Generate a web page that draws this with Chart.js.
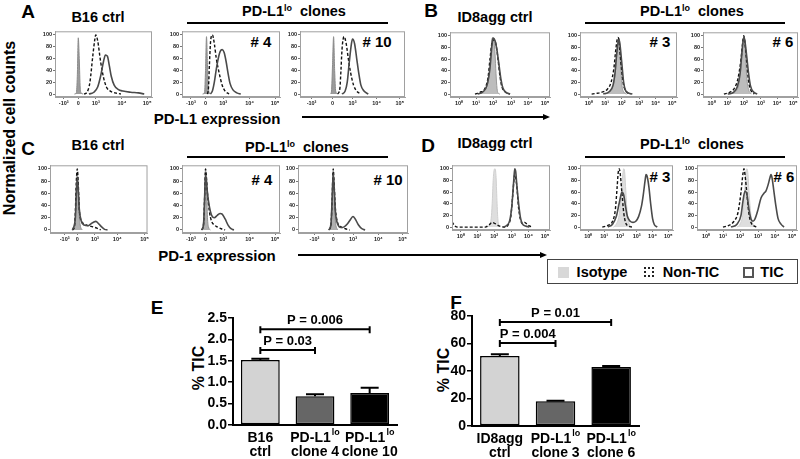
<!DOCTYPE html>
<html>
<head>
<meta charset="utf-8">
<script src="https://cdn.jsdelivr.net/npm/chart.js@4.4.0/dist/chart.umd.min.js"></script>
<style>
body{margin:0;background:#fff}
#fig{position:relative;width:800px;height:459px;overflow:hidden;background:#fff;font-family:"Liberation Sans",Arial,sans-serif;font-weight:bold;color:#000}
#fig canvas{position:absolute}
.t{position:absolute;white-space:pre;transform:translate(-50%,-50%);line-height:1}
.t sup{font-size:62%;vertical-align:0;position:relative;top:-0.55em}
.hl{position:absolute;height:2px;background:#000}
.ar{position:absolute;width:0;height:0;border-left:7px solid #000;border-top:3.5px solid transparent;border-bottom:3.5px solid transparent}
.v{transform:translate(-50%,-50%) rotate(-90deg)}
.sq{position:absolute;box-sizing:border-box}
</style>
</head>
<body>
<div id="fig">
  <div class="t" style="left:28px;top:11px;font-size:19px">A</div>
  <div class="t" style="left:98px;top:17px;font-size:14.5px">B16 ctrl</div>
  <div class="t" style="left:294px;top:11px;font-size:14.5px">PD-L1<sup>lo</sup>  clones</div>
  <div class="hl" style="left:187px;top:22px;width:201px"></div>
  <div class="t" style="left:261px;top:41px;font-size:15px"># 4</div>
  <div class="t" style="left:377px;top:41px;font-size:15px"># 10</div>
  <div class="t" style="left:217px;top:118px;font-size:15px">PD-L1 expression</div>
  <div class="hl" style="left:302px;top:116px;width:242px"></div>
  <div class="ar" style="left:543px;top:113.5px"></div>

  <div class="t" style="left:431px;top:10px;font-size:19px">B</div>
  <div class="t" style="left:495px;top:17px;font-size:14.5px">ID8agg ctrl</div>
  <div class="t" style="left:692px;top:11px;font-size:14.5px">PD-L1<sup>lo</sup>  clones</div>
  <div class="hl" style="left:585px;top:22px;width:200px"></div>
  <div class="t" style="left:660px;top:41px;font-size:15px"># 3</div>
  <div class="t" style="left:783px;top:41px;font-size:15px"># 6</div>

  <div class="t v" style="left:10px;top:128px;font-size:16px">Normalized cell counts</div>

  <div class="t" style="left:28px;top:148px;font-size:19px">C</div>
  <div class="t" style="left:98px;top:145px;font-size:14.5px">B16 ctrl</div>
  <div class="t" style="left:297px;top:147px;font-size:14.5px">PD-L1<sup>lo</sup>  clones</div>
  <div class="hl" style="left:187px;top:156px;width:201px"></div>
  <div class="t" style="left:262px;top:179px;font-size:15px"># 4</div>
  <div class="t" style="left:388px;top:179px;font-size:15px"># 10</div>
  <div class="t" style="left:217px;top:255px;font-size:15px">PD-1 expression</div>
  <div class="hl" style="left:298px;top:254px;width:243px"></div>
  <div class="ar" style="left:540px;top:251.5px"></div>

  <div class="t" style="left:428px;top:145px;font-size:19px">D</div>
  <div class="t" style="left:495px;top:143px;font-size:14.5px">ID8agg ctrl</div>
  <div class="t" style="left:692px;top:144px;font-size:14.5px">PD-L1<sup>lo</sup>  clones</div>
  <div class="hl" style="left:585px;top:156px;width:200px"></div>
  <div class="t" style="left:660px;top:176px;font-size:15px"># 3</div>
  <div class="t" style="left:784px;top:176px;font-size:15px"># 6</div>

  <div class="sq" style="left:547px;top:259px;width:251px;height:25px;border:1px solid #444"></div>
  <div class="sq" style="left:558px;top:267px;width:11px;height:11px;background:#d8d8d8"></div>
  <div class="t" style="left:602px;top:272px;font-size:14.5px">Isotype</div>
  <div class="sq" style="left:644px;top:267px;width:10px;height:10px;border:2px dotted #222"></div>
  <div class="t" style="left:691px;top:272px;font-size:14.5px">Non-TIC</div>
  <div class="sq" style="left:743px;top:267px;width:11px;height:11px;border:2px solid #555"></div>
  <div class="t" style="left:772px;top:272px;font-size:14.5px">TIC</div>

  <div class="t" style="left:157px;top:307px;font-size:19px">E</div>
  <div class="t v" style="left:199px;top:368px;font-size:16px">% TIC</div>
  <div class="t" style="left:456px;top:302px;font-size:19px">F</div>
  <div class="t v" style="left:444px;top:370px;font-size:16px">% TIC</div>
</div>
<script>
const FONT = '"Liberation Sans", Arial, sans-serif';
Chart.defaults.font.family = FONT;
Chart.defaults.color = '#000';

// histogram axes
const biexTicks = [9, 24, 42, 69, 95];
const biexTicksA3 = [11, 31, 50, 73, 95];
const biexTicksC1 = [15, 28, 46, 69, 97];
const biexTicksC3 = [15, 32, 50, 73, 95];
const biexLabels = ['-10³', '0', '10³', '10⁴', '10⁵'];
const logTicks = [9, 26, 43, 61, 78, 95];
const logLabels = ['10⁰', '10¹', '10²', '10³', '10⁴', '10⁵'];
const countTicks = [0, 20, 40, 60, 80, 100];

// A: B16, PD-L1
const a1Iso = [[20,0],[22,2],[23,30],[24,95],[25,60],[26,10],[27,2],[29,0]];
const a1Non = [[30,0],[33,3],[36,20],[39,65],[41,92],[42,100],[44,90],[47,55],[50,28],[53,12],[57,5],[62,2],[68,0]];
const a1Tic = [[35,0],[40,3],[44,12],[47,30],[50,55],[52,66],[54,64],[56,48],[58,30],[61,15],[65,8],[70,5],[78,3],[86,2],[92,0]];
const a2Iso = [[21,0],[23,3],[24,40],[25,97],[26,50],[27,8],[29,0]];
const a2Non = [[26,0],[27,10],[28,50],[29,85],[30,98],[31,100],[33,85],[35,60],[38,35],[41,15],[44,5],[48,0]];
const a2Tic = [[29,0],[31,5],[33,20],[35,42],[37,60],[39,72],[41,75],[43,70],[45,55],[47,35],[49,18],[52,7],[56,2],[60,0]];
const a3Iso = [[29,0],[30,5],[31,50],[32,97],[33,40],[34,5],[36,0]];
const a3Non = [[36,0],[38,10],[39,40],[40,75],[41,92],[42,97],[44,85],[46,60],[48,38],[51,15],[54,5],[58,0]];
const a3Tic = [[40,0],[43,5],[45,20],[47,55],[49,85],[50,93],[52,85],[54,60],[56,35],[58,15],[61,5],[65,0]];

// B: ID8agg, PD-L1
const b1Iso = [[28,0],[32,3],[36,10],[39,30],[41,70],[42,95],[43,97],[44,92],[45,70],[46,35],[47,10],[48,2],[50,0]];
const b1Non = [[25,0],[30,3],[35,10],[38,28],[40,60],[42,88],[44,93],[46,85],[48,60],[50,30],[52,12],[55,4],[60,0]];
const b1Tic = [[28,0],[33,4],[37,15],[40,45],[42,85],[43,96],[45,92],[47,75],[49,50],[51,25],[53,10],[56,3],[60,0]];
const b2Iso = [[26,0],[30,3],[34,12],[36,30],[38,70],[39,92],[40,95],[41,85],[42,55],[43,20],[45,4],[48,0]];
const b2Non = [[12,0],[16,1],[22,3],[28,8],[32,20],[35,45],[37,78],[39,97],[40,95],[41,75],[43,40],[45,15],[48,4],[52,0]];
const b2Tic = [[24,0],[30,4],[34,15],[36,35],[38,72],[40,93],[41,88],[43,55],[45,20],[47,6],[50,2],[54,0]];
const b3Iso = [[28,0],[33,3],[37,12],[39,30],[41,65],[42,88],[43,97],[44,88],[45,60],[46,30],[48,8],[51,0]];
const b3Non = [[22,0],[28,3],[33,10],[37,28],[40,60],[42,92],[43,100],[44,90],[46,55],[48,22],[50,8],[54,0]];
const b3Tic = [[26,0],[32,3],[36,12],[39,35],[41,72],[43,98],[44,92],[46,65],[48,35],[50,14],[53,4],[57,0]];

// C: B16, PD-1
const c1Iso = [[23,0],[25,3],[26,20],[27,70],[28,95],[29,70],[30,25],[31,8],[33,0]];
const c1Non = [[23,0],[25,5],[26,30],[27,80],[28,100],[29,75],[30,35],[32,15],[35,10],[39,7],[44,5],[48,3],[52,0]];
const c1Tic = [[23,0],[26,20],[27,60],[28,85],[29,65],[30,35],[32,15],[35,8],[39,7],[42,10],[45,13],[47,14],[50,10],[53,5],[56,1],[59,0]];
const c2Iso = [[20,0],[22,5],[23,40],[24,100],[25,70],[26,20],[27,5],[29,0]];
const c2Non = [[20,0],[22,10],[23,50],[24,100],[25,85],[26,60],[28,30],[30,15],[33,8],[36,5],[40,2],[44,0]];
const c2Tic = [[20,0],[22,10],[23,50],[24,90],[25,80],[26,60],[28,38],[30,25],[33,20],[36,24],[39,27],[41,26],[44,18],[47,8],[50,2],[53,0]];
const c3Iso = [[28,0],[30,5],[31,40],[32,97],[33,60],[34,15],[36,0]];
const c3Non = [[28,0],[30,10],[31,50],[32,100],[33,70],[34,35],[36,12],[39,5],[43,2],[47,0]];
const c3Tic = [[28,0],[30,10],[31,50],[32,92],[33,65],[34,30],[36,10],[39,4],[42,5],[45,10],[48,18],[50,22],[52,18],[55,8],[58,2],[61,0]];

// D: ID8agg, PD-1
const d1Iso = [[36,0],[38,3],[40,15],[41,40],[42,80],[43,98],[44,100],[45,85],[46,40],[47,10],[49,0]];
const d1Non = [[0,9],[3,2],[6,0],[34,0],[38,4],[41,8],[44,6],[48,2],[54,0],[57,3],[60,18],[62,55],[64,90],[66,72],[68,32],[70,12],[72,6],[74,8],[76,6],[79,2],[82,0]];
const d1Tic = [[52,0],[56,3],[59,12],[61,35],[63,80],[64,100],[65,95],[66,75],[68,40],[70,15],[72,5],[75,2],[79,0]];
const d2Iso = [[36,0],[39,5],[42,20],[44,50],[46,90],[47,100],[48,95],[49,70],[50,40],[52,12],[54,2],[56,0]];
const d2Non = [[24,0],[30,3],[35,10],[38,30],[40,70],[41,92],[42,100],[43,95],[45,60],[47,25],[49,8],[52,2],[56,0]];
const d2Tic = [[30,0],[35,5],[39,18],[42,40],[44,55],[45,60],[47,55],[49,35],[51,18],[54,10],[57,8],[60,10],[63,18],[66,35],[68,55],[70,80],[71,90],[72,88],[74,70],[76,40],[78,15],[80,4],[83,0]];
const d3Iso = [[40,0],[43,5],[46,25],[48,70],[49,95],[50,100],[51,90],[52,60],[54,20],[56,5],[58,0]];
const d3Non = [[26,0],[32,3],[37,10],[41,25],[44,60],[46,92],[47,100],[48,90],[50,55],[52,22],[54,8],[57,2],[60,0]];
const d3Tic = [[34,0],[40,5],[44,20],[46,45],[48,62],[50,55],[52,30],[54,14],[56,10],[58,14],[61,30],[64,50],[67,58],[69,62],[71,72],[73,85],[74,90],[75,85],[77,60],[79,35],[81,15],[84,5],[87,0]];

// E and F bar charts
const catTopE = ['B16', 'PD-L1', 'PD-L1'];
const catSupE = ['', 'lo', 'lo'];
const catBotE = ['ctrl', 'clone 4', 'clone 10'];
const ticE = [1.52, 0.67, 0.75];
const semE = [0.03, 0.05, 0.12];
const pFromE = [0, 0];
const pToE = [2, 1];
const pLevelE = [2.24, 1.75];
const pTextE = ['P = 0.006', 'P = 0.03'];

const catTopF = ['ID8agg', 'PD-L1', 'PD-L1'];
const catSupF = ['', 'lo', 'lo'];
const catBotF = ['ctrl', 'clone 3', 'clone 6'];
const ticF = [51, 18, 43];
const semF = [1.2, 0.4, 0.7];
const pFromF = [0, 0];
const pToF = [2, 1];
const pLevelF = [75.6, 60.4];
const pTextF = ['P = 0.01', 'P = 0.004'];

const barColors = ['#d3d3d3', '#666666', '#000000'];

const fig = document.getElementById('fig');
const P = a => a.map(p => ({x: p[0], y: p[1]}));

const frame = {
  id: 'frame',
  afterDraw(ch) {
    const a = ch.chartArea, g = ch.ctx;
    g.save();
    g.strokeStyle = '#a0a0a0';
    g.lineWidth = 1;
    g.strokeRect(a.left + 0.5, a.top + 0.5, a.right - a.left - 1, a.bottom - a.top - 1);
    g.restore();
  }
};

function makeCanvas(left, top, w, h) {
  const c = document.createElement('canvas');
  c.width = w; c.height = h;
  c.style.left = left + 'px'; c.style.top = top + 'px';
  c.style.width = w + 'px'; c.style.height = h + 'px';
  fig.appendChild(c);
  return c;
}

function hist(left, top, w, h, ticks, labels, iso, non, tic, isoFill, isoLine) {
  const c = makeCanvas(left - 18, top - 2, w + 20, h + 14);
  const tickFont = {size: 5.5, weight: 'bold', family: FONT};
  new Chart(c, {
    type: 'line',
    data: {
      datasets: [
        {data: P(tic), borderColor: '#4a4a4a', borderWidth: 1.6, fill: false, order: 1},
        {data: P(non), borderColor: '#111', borderWidth: 1.4, borderDash: [3, 2], fill: false, order: 2},
        {data: P(iso), borderColor: isoLine, backgroundColor: isoFill, borderWidth: 1, fill: 'origin', order: 3}
      ]
    },
    options: {
      responsive: false,
      animation: false,
      layout: {padding: {top: 2, right: 2, left: 0, bottom: 0}},
      elements: {point: {radius: 0}, line: {cubicInterpolationMode: 'monotone'}},
      plugins: {legend: {display: false}, tooltip: {enabled: false}},
      scales: {
        x: {
          type: 'linear', min: 0, max: 100,
          afterBuildTicks: s => { s.ticks = ticks.map(v => ({value: v})); },
          afterFit: s => { s.height = 12; },
          ticks: {font: tickFont, color: '#222', padding: 1, maxRotation: 0, autoSkip: false,
                  callback: (v, i) => labels[i]},
          grid: {drawOnChartArea: false, tickLength: 2, color: '#777'},
          border: {color: '#a0a0a0'}
        },
        y: {
          min: -5, max: 106,
          afterBuildTicks: s => { s.ticks = countTicks.map(v => ({value: v})); },
          afterFit: s => { s.width = 18; },
          ticks: {font: tickFont, color: '#222', padding: 1, autoSkip: false, callback: (v, i) => String(countTicks[i])},
          grid: {drawOnChartArea: false, tickLength: 2, color: '#777'},
          border: {color: '#a0a0a0'}
        }
      }
    },
    plugins: [frame]
  });
}

hist(55, 29, 97, 68, biexTicks, biexLabels, a1Iso, a1Non, a1Tic, '#9c9c9c', '#8a8a8a');
hist(182, 29, 98, 68, biexTicks, biexLabels, a2Iso, a2Non, a2Tic, '#9c9c9c', '#8a8a8a');
hist(300, 29, 105, 68, biexTicksA3, biexLabels, a3Iso, a3Non, a3Tic, '#9c9c9c', '#8a8a8a');
hist(450, 30, 100, 67, logTicks, logLabels, b1Iso, b1Non, b1Tic, '#bdbdbd', '#9a9a9a');
hist(580, 30, 97, 67, logTicks, logLabels, b2Iso, b2Non, b2Tic, '#bdbdbd', '#9a9a9a');
hist(703, 30, 95, 67, logTicks, logLabels, b3Iso, b3Non, b3Tic, '#bdbdbd', '#9a9a9a');
hist(50, 163, 98, 70, biexTicksC1, biexLabels, c1Iso, c1Non, c1Tic, '#b0b0b0', '#909090');
hist(182, 163, 98, 70, biexTicks, biexLabels, c2Iso, c2Non, c2Tic, '#b0b0b0', '#909090');
hist(298, 163, 110, 70, biexTicksC3, biexLabels, c3Iso, c3Non, c3Tic, '#b0b0b0', '#909090');
hist(452, 163, 98, 67, logTicks, logLabels, d1Iso, d1Non, d1Tic, '#dedede', '#cfcfcf');
hist(580, 163, 93, 67, logTicks, logLabels, d2Iso, d2Non, d2Tic, '#dedede', '#cfcfcf');
hist(697, 163, 100, 67, logTicks, logLabels, d3Iso, d3Non, d3Tic, '#dedede', '#cfcfcf');

function barChart(axisX, topY, areaW, areaH, yMax, yStep, dec, vals, sems, catTop, catSup, catBot, pFrom, pTo, pLevel, pText) {
  const c = makeCanvas(axisX - 35, topY - 20, 35 + areaW + 8, 20 + areaH + 34);
  const overlay = {
    id: 'overlay',
    afterDatasetsDraw(ch) {
      const g = ch.ctx, xs = ch.scales.x, ys = ch.scales.y;
      g.save();
      g.strokeStyle = '#000';
      g.fillStyle = '#000';
      g.lineWidth = 2;
      // error bars (upper half only)
      vals.forEach((v, i) => {
        const x = xs.getPixelForValue(i);
        const y0 = ys.getPixelForValue(v), y1 = ys.getPixelForValue(v + sems[i]);
        g.beginPath();
        g.moveTo(x, y0); g.lineTo(x, y1);
        g.moveTo(x - 9, y1); g.lineTo(x + 9, y1);
        g.stroke();
      });
      // significance brackets
      g.font = 'bold 13px ' + FONT;
      g.textAlign = 'center';
      g.textBaseline = 'middle';
      pLevel.forEach((lv, i) => {
        const xa = xs.getPixelForValue(pFrom[i]), xb = xs.getPixelForValue(pTo[i]);
        const y = ys.getPixelForValue(lv);
        g.beginPath();
        g.moveTo(xa, y); g.lineTo(xb, y);
        g.moveTo(xa, y - 3); g.lineTo(xa, y + 4);
        g.moveTo(xb, y - 3); g.lineTo(xb, y + 4);
        g.stroke();
        g.fillText(pText[i], (xa + xb) / 2, y - 9);
      });
      // category labels with superscript
      const base = ys.getPixelForValue(0);
      catTop.forEach((t, i) => {
        const x = xs.getPixelForValue(i);
        g.font = 'bold 14px ' + FONT;
        const w1 = g.measureText(t).width;
        g.font = 'bold 9px ' + FONT;
        const w2 = catSup[i] ? g.measureText(catSup[i]).width + 1 : 0;
        const sx = x - (w1 + w2) / 2;
        g.textAlign = 'left';
        g.font = 'bold 14px ' + FONT;
        g.fillText(t, sx, base + 13);
        if (catSup[i]) {
          g.font = 'bold 9px ' + FONT;
          g.fillText(catSup[i], sx + w1 + 1, base + 8);
        }
        g.textAlign = 'center';
        g.font = 'bold 14px ' + FONT;
        g.fillText(catBot[i], x, base + 27);
      });
      g.restore();
    }
  };
  new Chart(c, {
    type: 'bar',
    data: {
      labels: catBot,
      datasets: [{
        data: vals,
        backgroundColor: barColors,
        borderColor: '#000',
        borderWidth: 1.5,
        borderSkipped: false,
        barPercentage: 0.71,
        categoryPercentage: 1
      }]
    },
    options: {
      responsive: false,
      animation: false,
      layout: {padding: {top: 20, right: 8, left: 0, bottom: 0}},
      plugins: {legend: {display: false}, tooltip: {enabled: false}},
      scales: {
        x: {
          afterFit: s => { s.height = 34; },
          ticks: {display: false},
          grid: {display: false},
          border: {color: '#000', width: 2}
        },
        y: {
          min: 0, max: yMax,
          afterFit: s => { s.width = 35; },
          ticks: {stepSize: yStep, font: {size: 14, weight: 'bold', family: FONT}, color: '#000', padding: 1,
                  callback: v => Number(v).toFixed(dec)},
          grid: {drawOnChartArea: false, tickLength: 5, color: '#000', lineWidth: 1.5},
          border: {color: '#000', width: 2}
        }
      }
    },
    plugins: [overlay]
  });
}

barChart(233, 318, 164, 107, 2.5, 0.5, 1, ticE, semE, catTopE, catSupE, catBotE, pFromE, pToE, pLevelE, pTextE);
barChart(472, 316, 167, 110, 80, 20, 0, ticF, semF, catTopF, catSupF, catBotF, pFromF, pToF, pLevelF, pTextF);
</script>
</body>
</html>
